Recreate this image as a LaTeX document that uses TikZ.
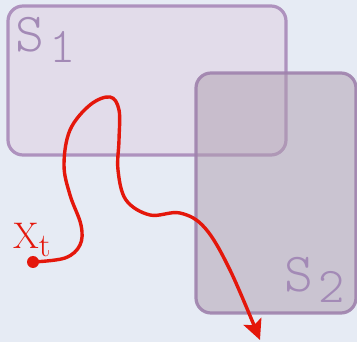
\documentclass[tikz,border=0pt]{standalone}
\usepackage{color, xcolor}
\usepackage{tikz}
\usetikzlibrary{shapes.geometric, arrows, arrows.meta}
\definecolor{bgblue}{HTML}{E6EBF4}
\definecolor{setfill}{HTML}{E2DCEA}
\definecolor{setline}{HTML}{AE92BE}
\definecolor{setdark}{HTML}{B09FB0}
\definecolor{darkline}{HTML}{9F82AD}
\definecolor{setlabel}{HTML}{A38AB6}
\definecolor{pathred}{HTML}{E4170B}
\tikzstyle{setbox} = [draw=setline, fill=setfill, line width=3.2pt, rounded corners=15pt, inner sep=0pt]
\tikzstyle{darkbox} = [setbox, draw=darkline, fill=setdark, fill opacity=0.5, draw opacity=0.9]
\tikzstyle{setname} = [text=setlabel, inner sep=0pt, anchor=base west]
\tikzstyle{arrow} = [line width=3.4pt, pathred, -{Stealth[length=20pt, width=19pt, inset=4pt]}]
\newcommand{\bigS}{\fontsize{55}{55}\ttfamily\fontseries{l}\selectfont}
\newcommand{\smallS}{\fontsize{50}{50}\ttfamily\fontseries{l}\selectfont}

\begin{document}
\begin{tikzpicture}[x=1pt, y=-1pt]
    \fill[bgblue] (0,0) rectangle (357,342);
    \useasboundingbox (0,0) rectangle (357,342);

    \node (s1box) [setbox, minimum width=278pt, minimum height=149pt] at (147,80.5) {};
    \node (s2box) [darkbox, minimum width=160pt, minimum height=240pt] at (276,193) {};
    \node (s1label) [setname] at (15,52) {\bigS S\hspace{5pt}\raisebox{-11pt}{\smallS 1}};
    \node (s2label) [setname] at (284,292) {\bigS S\hspace{5pt}\raisebox{-11pt}{\smallS 2}};

    \node (xt) [circle, fill=pathred, inner sep=0pt, minimum size=12pt] at (33,262) {};
    \node (xtlabel) [text=pathred, inner sep=0pt, anchor=base west] at (13,249)
        {\fontsize{37}{37}\selectfont X\raisebox{-8pt}{\fontsize{33}{33}\selectfont t}};
    \coordinate (tip) at (260,340);

    % Path
    \draw[arrow] plot[smooth, tension=0.6] coordinates {(xt.center) (65,258) (80,245) (81,225)
        (70,195) (64,165) (70,130) (90,105) (110,97) (119,110) (119,140) (118,170)
        (126,200) (150,215) (180,213) (205,228) (230,270) (tip)};
\end{tikzpicture}
\end{document}
